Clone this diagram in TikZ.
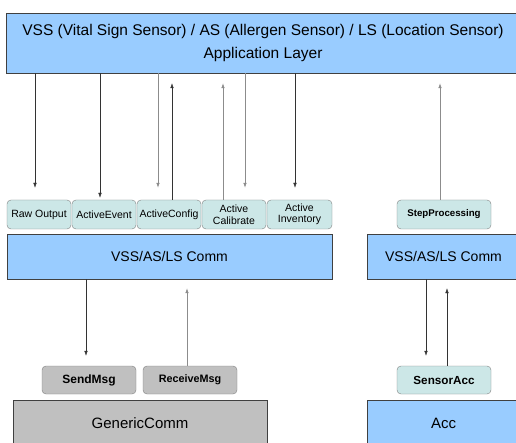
\documentclass[tikz,border=0pt]{standalone}
\usepackage{fontspec}
\setmainfont{Liberation Sans}
\usetikzlibrary{arrows.meta}
\definecolor{layerblue}{RGB}{153,204,255}
\definecolor{ifteal}{RGB}{204,231,231}
\definecolor{ifgrey}{RGB}{192,192,192}
\tikzset{
  layer/.style={draw=black!75, fill=layerblue, inner sep=0pt},
  iface/.style={draw=black!50, fill=ifteal, rounded corners=4pt, inner sep=0pt,
    minimum height=29, font=\fontsize{10.5}{11.5}\selectfont, align=center},
  gface/.style={iface, fill=ifgrey, minimum height=28},
  call/.style={-{Latex[length=5pt,width=3.5pt]}, black!80, thin},
  back/.style={call, black!45, semithick}
}
\begin{document}
\begin{tikzpicture}[x=1pt,y=-1pt]
  \useasboundingbox (0,0) rectangle (516,443);
  \node[layer, minimum width=514, minimum height=60, align=center,
    font=\fontsize{15.5}{23}\selectfont] (app) at (263,43)
    {VSS (Vital Sign Sensor) / AS (Allergen Sensor) / LS (Location Sensor)\\Application Layer};
  % interfaces of the sensor comm layer
  \node[iface, minimum width=64] (raw) at (39,214.5) {Raw Output};
  \node[iface, minimum width=64] (event) at (104,214.5) {ActiveEvent};
  \node[iface, minimum width=64] (config) at (169,214.5) {ActiveConfig};
  \node[iface, minimum width=64] (calib) at (234,214.5) {Active\\Calibrate};
  \node[iface, minimum width=65] (invent) at (299.5,214.5) {Active\\Inventory};
  \node[iface, minimum width=94, font=\fontsize{9.7}{11}\selectfont\bfseries] (step) at (444,214.5) {StepProcessing};
  \node[layer, minimum width=325, minimum height=45, font=\fontsize{14}{16}\selectfont] (comm) at (169.5,256.5) {VSS/AS/LS Comm};
  \node[layer, minimum width=153, minimum height=45, font=\fontsize{14}{16}\selectfont] (commr) at (443.5,256.5) {VSS/AS/LS Comm};
  % lower layer
  \node[gface, minimum width=94, font=\fontsize{12}{13}\selectfont\bfseries] (send) at (89,380) {SendMsg};
  \node[gface, minimum width=94, font=\fontsize{10.8}{12}\selectfont\bfseries] (recv) at (190,380) {ReceiveMsg};
  \node[iface, minimum width=94, minimum height=28, font=\fontsize{11.7}{13}\selectfont\bfseries] (sensor) at (444,380) {SensorAcc};
  \node[layer, fill=ifgrey, minimum width=254, minimum height=46, font=\fontsize{15}{17}\selectfont] (generic) at (140,423) {GenericComm};
  \node[layer, minimum width=153, minimum height=46, font=\fontsize{15}{17}\selectfont] (acc) at (443.5,423) {Acc};
  % application layer <-> comm interfaces
  \draw[call] ([xshift=-4]raw.north |- app.south) -- ([xshift=-4,yshift=12]raw.north);
  \draw[call] ([xshift=-4]event.north |- app.south) -- ([xshift=-4,yshift=2]event.north);
  \draw[back] ([xshift=-11]config.north |- app.south) -- ([xshift=-11,yshift=12]config.north);
  \draw[call] ([xshift=3]config.north) -- ([xshift=3,yshift=-10]config.north |- app.south);
  \draw[back] ([xshift=-11]calib.north) -- ([xshift=-11,yshift=-10]calib.north |- app.south);
  \draw[back] ([xshift=11]calib.north |- app.south) -- ([xshift=11,yshift=12]calib.north);
  \draw[call] ([xshift=-4.5]invent.north |- app.south) -- ([xshift=-4.5,yshift=12]invent.north);
  \draw[back] ([xshift=-4]step.north) -- ([xshift=-4,yshift=-10]step.north |- app.south);
  % comm layer <-> lower layer
  \draw[call] ([xshift=-3]send.north |- comm.south) -- ([xshift=-3,yshift=10]send.north);
  \draw[back] ([xshift=-3]recv.north) -- ([xshift=-3,yshift=-9]recv.north |- comm.south);
  \draw[call] ([xshift=-18]sensor.north |- commr.south) -- ([xshift=-18,yshift=10]sensor.north);
  \draw[call] ([xshift=3]sensor.north) -- ([xshift=3,yshift=-9]sensor.north |- commr.south);
\end{tikzpicture}
\end{document}
